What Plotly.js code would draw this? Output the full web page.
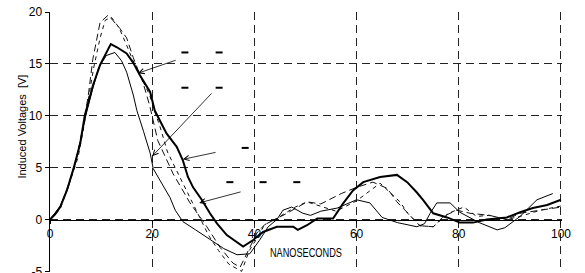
<!DOCTYPE html>
<html><head><meta charset="utf-8">
<script src="https://cdn.plot.ly/plotly-3.0.1.min.js"></script>
<style>html,body{margin:0;padding:0;background:#fff}#c{width:585px;height:273px}</style>
</head><body><div id="c"></div>
<script>
// ---- data ----
const xTicks = [0, 20, 40, 60, 80, 100];
const yTicks = [-5, 0, 5, 10, 15, 20];

// thick solid curve
const thickT = [0, 1, 2, 3.3, 4.6, 5.9, 6.8, 8.4, 9.8, 11.1, 11.9, 13.1, 15, 16.3, 17.6, 19.6, 20.5, 22.8, 24.8, 26, 27, 28, 29.7, 31.3, 32.7, 34.6, 36.6, 37.8, 39.7, 41.7, 44.4, 47.6, 48.5, 50.3, 52.3, 55.4, 57.3, 59.3, 61.3, 64.6, 67.9, 69.9, 71.8, 73, 75, 77.7, 80.2, 82.8, 85.5, 89.4, 92, 94.5, 97.3, 100];
const thickV = [0, 0.5, 1.2, 2.8, 4.9, 7.3, 10, 12.9, 14.9, 16.2, 16.9, 16.6, 16.0, 15.1, 13.9, 12.3, 10.5, 8.3, 7.0, 5.7, 4.1, 3.1, 1.9, 0.6, -0.4, -1.5, -2.2, -2.6, -2.0, -1.2, -0.7, -0.7, -1.0, -0.55, 0.1, 0.1, 1.5, 2.8, 3.6, 4.1, 4.3, 3.6, 2.6, 1.9, 0.6, 0.2, -0.3, -0.3, 0, 0.2, 0.7, 1.1, 1.4, 1.9];

// thin solid curve
const thinT = [0, 2, 3.5, 4.8, 6, 7, 8.3, 9.5, 11, 12.7, 14, 15, 16.3, 17, 18.3, 19.6, 20.2, 21.8, 23.5, 24.5, 26, 28.5, 31, 34, 36.6, 39.1, 41, 42.7, 44.4, 45.6, 47.3, 49.5, 51, 53, 56.2, 58, 60, 62.6, 65, 68, 71.8, 73.3, 74.4, 75.7, 78.3, 80.2, 84, 87.5, 89, 92, 95.3, 98.4];
const thinV = [0, 1.3, 3.0, 5.2, 7.6, 10, 12.5, 14.6, 15.8, 16.1, 15.3, 14.2, 12, 10.5, 8.5, 6.4, 4.9, 3.5, 2.1, 0.9, -0.2, -1.0, -1.8, -2.8, -3.4, -3.3, -2.0, -0.7, 0, 0.9, 1.2, 0.6, 0.4, 0.8, 1.1, 1.5, 1.9, 1.6, 0.2, -0.3, -0.7, -0.4, 0.6, 1.6, 1.6, 0.7, -0.3, -1.0, -0.8, 0.3, 1.9, 2.5];

// long-dashed curve
const dashAT = [0, 2, 3.5, 5, 6.5, 7.5, 8.4, 9.8, 11.4, 13.7, 15, 16.3, 18.2, 19.5, 21.1, 24.1, 27.4, 30.7, 33.3, 35.8, 37.2, 38.5, 40.5, 42, 46, 50.3, 53, 57, 60, 63.2, 66, 67.9, 70, 72.4, 75, 77, 79.6, 82.2, 86, 89.4, 92, 95.9, 98, 100];
const dashAV = [0, 1.2, 3.2, 5.5, 9.0, 12.0, 15.5, 19.0, 19.7, 18.4, 17.5, 15.6, 13.2, 11.0, 7.6, 4.4, 1.6, -0.7, -2.7, -4.2, -4.6, -3.3, -1.3, -0.5, 0.5, 1.7, 1.5, 2.5, 3.1, 3.6, 3.0, 1.7, 0.6, -0.6, -0.7, 0.3, 0.9, 0.6, 0.4, 0, 0.6, 0.9, 1.0, 1.2];

// short-dashed curve
const dashBT = [0, 2, 4, 5.5, 6.5, 7.5, 8.5, 9.8, 10.8, 12, 13.5, 15, 16.5, 18, 19.5, 20.5, 21.5, 23, 25, 27, 29, 31, 33, 35, 37.5, 39, 40.5, 42, 44, 48, 50.3, 53, 56, 60, 64.6, 68.5, 70, 72.4, 75, 78, 81, 83.5, 86, 89.4, 92, 96, 100];
const dashBV = [0, 1.0, 3.8, 6.0, 8.6, 11.5, 14.5, 17.5, 19.2, 19.5, 18.5, 16.8, 15.0, 13.5, 12.0, 10.4, 9.0, 6.5, 4.5, 2.5, 0.5, -1.5, -3.0, -4.3, -5.0, -3.0, -1.8, -0.5, 0, 1.2, 1.7, 1.3, 0.8, 1.8, 3.5, 1.7, 0.6, -0.6, -0.7, 0.6, 1.2, 0.3, 0.4, 0, 0.3, 0.9, 1.3];

// arrows: head (x,y) and tail (x,y)
const arrowHeadX = [17.2, 20.0, 26.0, 29.2];
const arrowHeadY = [14.1, 6.1, 5.8, 1.6];
const arrowTailX = [24.9, 31.9, 32.7, 37.6];
const arrowTailY = [15.4, 12.3, 6.5, 2.7];

// small dash marks
const markX = [26.4, 33.1, 26.4, 33.1, 38.2, 35.2, 41.7, 48.3];
const markY = [16.1, 16.1, 12.7, 12.7, 6.9, 3.6, 3.6, 3.6];

// ---- chart ----
const traces = [
  {x: dashAT, y: dashAV, mode: 'lines', line: {color: '#111', width: 1, dash: '7px,4px'}, hoverinfo: 'skip'},
  {x: dashBT, y: dashBV, mode: 'lines', line: {color: '#111', width: 1, dash: '4px,4px'}, hoverinfo: 'skip'},
  {x: thinT, y: thinV, mode: 'lines', line: {color: '#000', width: 1}, hoverinfo: 'skip'},
  {x: thickT, y: thickV, mode: 'lines', line: {color: '#000', width: 2}, hoverinfo: 'skip'},
  {x: markX, y: markY, mode: 'markers', marker: {symbol: 'line-ew', size: 5, line: {color: '#000', width: 2}}, hoverinfo: 'skip'}
];

const annotations = arrowHeadX.map((hx, i) => ({
  x: hx, y: arrowHeadY[i], ax: arrowTailX[i], ay: arrowTailY[i],
  xref: 'x', yref: 'y', axref: 'x', ayref: 'y',
  text: '', showarrow: true, arrowhead: 5, arrowsize: 1.3, arrowwidth: 0.8, arrowcolor: '#000'
}));
annotations.push({
  xref: 'paper', yref: 'paper', x: -0.07, y: 0.56, text: 'Induced Voltages  [V]',
  textangle: -90, showarrow: false, font: {family: 'Liberation Sans, Arial, sans-serif', size: 11, color: '#000'}
});
annotations.push({
  xref: 'x', yref: 'y', x: 50.1, y: -3.15, text: 'NANOSECONDS', showarrow: false,
  font: {family: 'Liberation Sans, Arial, sans-serif', size: 13, color: '#000'}
});

const tickFont = {family: 'Liberation Sans, Arial, sans-serif', size: 12, color: '#000'};
const yMin = -5.06, yMax = 20;
const layout = {
  width: 585, height: 273,
  margin: {l: 50, r: 23, t: 12, b: 1, pad: 0},
  paper_bgcolor: '#fff', plot_bgcolor: '#fff',
  showlegend: false,
  xaxis: {
    range: [0, 100.2], tickvals: xTicks, ticktext: xTicks.map(String),
    showgrid: true, gridcolor: '#222', gridwidth: 1, griddash: '8px,5px',
    showline: true, linecolor: '#000', linewidth: 1.5,
    anchor: 'free', position: -yMin / (yMax - yMin),
    ticks: 'outside', ticklen: 3, tickcolor: '#000',
    zeroline: false, tickfont: tickFont, fixedrange: true, ticklabeloverflow: 'allow'
  },
  yaxis: {
    range: [yMin, yMax], tickvals: yTicks, ticktext: yTicks.map(String),
    showgrid: true, gridcolor: '#222', gridwidth: 1, griddash: '8px,5px',
    showline: true, linecolor: '#000', linewidth: 1.5,
    ticks: 'outside', ticklen: 4, tickcolor: '#000',
    zeroline: false, tickfont: tickFont, fixedrange: true, ticklabeloverflow: 'allow'
  },
  annotations: annotations
};

Plotly.newPlot('c', traces, layout, {staticPlot: true, displayModeBar: false}).then(() => {
  // condense the x-axis caption to the narrow width seen in the reference
  document.querySelectorAll('.annotation-text').forEach(t => {
    if (t.textContent === 'NANOSECONDS') {
      t.setAttribute('textLength', '72');
      t.setAttribute('lengthAdjust', 'spacingAndGlyphs');
    }
  });
});
</script>
</body></html>
